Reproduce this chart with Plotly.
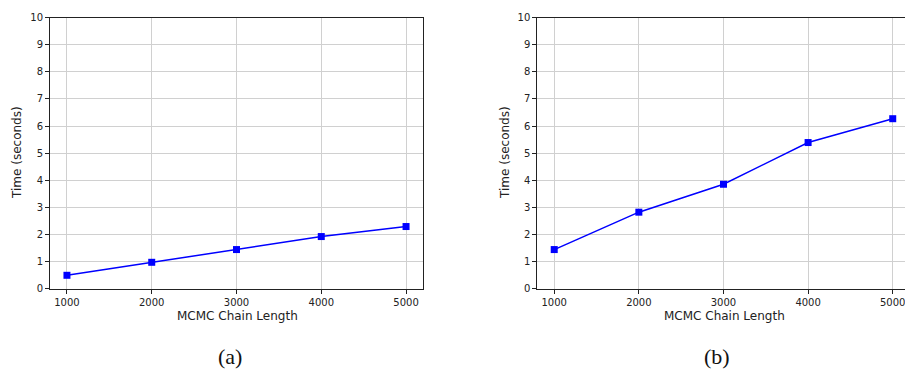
import plotly.graph_objects as go

chain_length = [1000, 2000, 3000, 4000, 5000]
time_a = [0.49, 0.97, 1.44, 1.92, 2.29]
time_b = [1.44, 2.82, 3.85, 5.39, 6.27]
y_ticks = list(range(0, 11))
x_ticks = [1000, 2000, 3000, 4000, 5000]

fig = go.Figure()
line_style = dict(color="#0000ff", width=1.5)
marker_style = dict(symbol="square", size=7, color="#0000ff")

fig.add_trace(go.Scatter(x=chain_length, y=time_a, mode="lines+markers",
                         line=line_style, marker=marker_style, xaxis="x", yaxis="y",
                         showlegend=False, cliponaxis=False))
fig.add_trace(go.Scatter(x=chain_length, y=time_b, mode="lines+markers",
                         line=line_style, marker=marker_style, xaxis="x2", yaxis="y2",
                         showlegend=False, cliponaxis=False))

W, H = 905, 377
ydom = [1 - 291.3 / H, 1 - 13 / H]
tickfont = dict(family="DejaVu Sans", size=10, color="#222222")
common_x = dict(tickvals=x_ticks, ticks="outside", ticklen=4, tickcolor="#222222",
                showline=True, linecolor="#222222", linewidth=1,
                showgrid=True, gridcolor="#d0d0d0", gridwidth=1,
                zeroline=False, tickfont=tickfont, ticklabeloverflow="allow")
common_y = dict(tickvals=y_ticks, range=[0, 10], ticks="outside", ticklen=4,
                tickcolor="#222222", showline=True, linecolor="#222222", linewidth=1,
                showgrid=True, gridcolor="#d0d0d0", gridwidth=1,
                zeroline=False, tickfont=tickfont)

fig.update_layout(
    width=W, height=H,
    margin=dict(l=0, r=0, t=0, b=0),
    paper_bgcolor="white", plot_bgcolor="white",
    xaxis=dict(domain=[50 / W, 423 / W], range=[800, 5200], anchor="y", mirror=True, **common_x),
    yaxis=dict(domain=ydom, anchor="x", mirror=True, **common_y),
    xaxis2=dict(domain=[537.3 / W, 1.0], range=[800, 5145], anchor="y2", mirror=True, **common_x),
    yaxis2=dict(domain=ydom, anchor="x2", mirror=False, **common_y),
)

title_font = dict(family="DejaVu Sans", size=12, color="#222222")
label_font = dict(family="Liberation Serif", size=22, color="#111111")
annos = [
    dict(text="MCMC Chain Length", x=237 / W, y=1 - 319 / H, font=title_font),
    dict(text="MCMC Chain Length", x=724 / W, y=1 - 319 / H, font=title_font),
    dict(text="Time (seconds)", x=17 / W, y=1 - 152 / H, font=title_font, textangle=-90),
    dict(text="Time (seconds)", x=505 / W, y=1 - 152 / H, font=title_font, textangle=-90),
    dict(text="(a)", x=230 / W, y=1 - 361 / H, font=label_font),
    dict(text="(b)", x=717 / W, y=1 - 361 / H, font=label_font),
]
for a in annos:
    fig.add_annotation(xref="paper", yref="paper", showarrow=False,
                       xanchor="center", yanchor="middle", **a)

post = (
    "var de=document.documentElement;de.style.margin='0';de.style.padding='0';de.style.overflow='hidden';"
    "document.body.style.margin='0';document.body.style.padding='0';document.body.style.overflow='hidden';"
    "var gd=document.getElementById('{plot_id}');gd.style.position='fixed';gd.style.top='0';gd.style.left='0';"
)
fig.write_html("out.html", config={"displayModeBar": False}, post_script=post)
